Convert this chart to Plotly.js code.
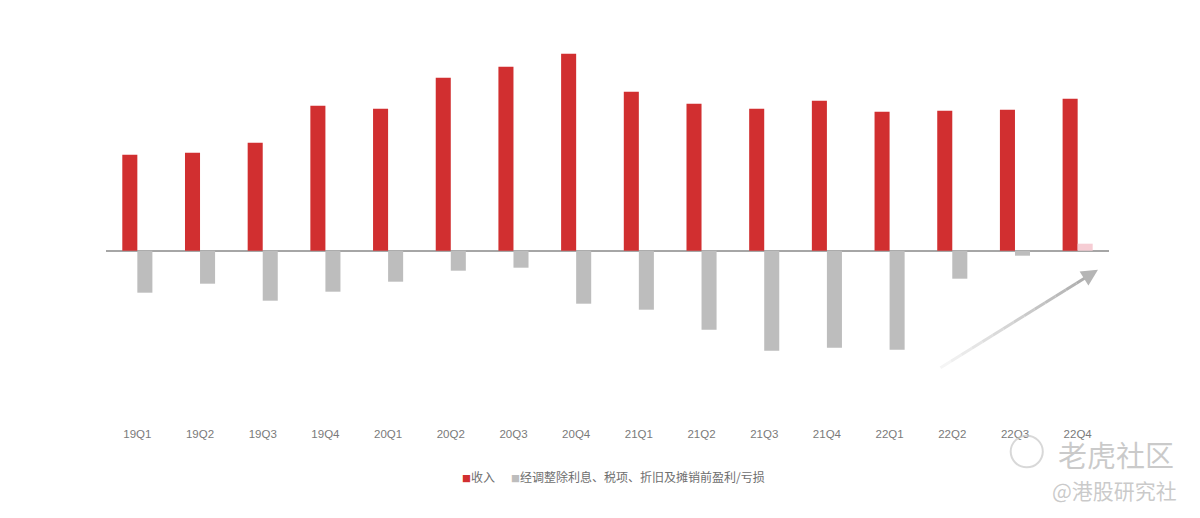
<!DOCTYPE html>
<html>
<head>
<meta charset="utf-8">
<script src="https://cdn.plot.ly/plotly-3.0.1.min.js"></script>
<style>html,body{margin:0;padding:0;background:#fff;}#chart{width:1200px;height:518px;}</style>
</head>
<body>
<div id="chart"></div>
<script>
var quarters = ['19Q1','19Q2','19Q3','19Q4','20Q1','20Q2','20Q3','20Q4','21Q1','21Q2','21Q3','21Q4','22Q1','22Q2','22Q3','22Q4'];
var revenue = [96, 98, 108, 145, 142, 173, 184, 197, 159, 147, 142, 150, 139, 140, 141, 152];
var adjEbitda = [-42, -33, -50, -41, -31, -20, -17, -53, -59, -79, -100, -97, -99, -28, -5, 7];
var seriesNames = ['收入', '经调整除利息、税项、折旧及摊销前盈利/亏损'];

var red = '#D12F30';
var grey = '#BDBDBD';
var pink = '#F6CDD4';
var ebitdaColors = adjEbitda.map(function(v){ return v > 0 ? pink : grey; });

var traces = [
  {type:'bar', name:seriesNames[0], x:quarters, y:revenue, marker:{color:red}, hoverinfo:'x+y'},
  {type:'bar', name:seriesNames[1], x:quarters, y:adjEbitda, marker:{color:ebitdaColors}, hoverinfo:'x+y'}
];

// gradient arrow: segments from faint to darker
var shapes = [];
var x0 = 0.832, y0 = -117, x1 = 0.978, y1 = -26;
var nSeg = 14;
for (var i = 0; i < nSeg; i++) {
  var t0 = i / nSeg, t1 = (i + 1) / nSeg;
  var c = Math.round(250 - 75 * t1);
  shapes.push({type:'line', xref:'paper', yref:'y',
    x0: x0 + (x1 - x0) * t0, y0: y0 + (y1 - y0) * t0,
    x1: x0 + (x1 - x0) * t1, y1: y0 + (y1 - y0) * t1,
    line:{color:'rgb(' + c + ',' + c + ',' + c + ')', width:3}});
}
// watermark logo circle
shapes.push({type:'circle', xref:'paper', yref:'paper', x0:0.902, x1:0.934, y0:-0.11, y1:-0.028,
  line:{color:'rgba(200,200,200,0.7)', width:2}});

var legendFont = {family:'Noto Sans CJK SC, sans-serif', size:12, color:'#6E6E6E'};

var layout = {
  width:1200, height:518,
  margin:{l:106, r:90.5, t:40, b:93},
  paper_bgcolor:'#ffffff', plot_bgcolor:'#ffffff',
  barmode:'group', bargap:0.52, bargroupgap:0,
  showlegend:false,
  xaxis:{type:'category', showgrid:false, showline:false, zeroline:false, ticks:'',
    tickfont:{family:'Liberation Sans, Arial, sans-serif', size:11.5, color:'#7A7A7A'}},
  yaxis:{range:[-174.3, 210.7], showgrid:false, showticklabels:false, showline:false, ticks:'',
    zeroline:true, zerolinecolor:'#A6A6A6', zerolinewidth:2},
  shapes:shapes,
  annotations:[
    {xref:'paper', yref:'y', x:x1 + 0.011, y:y1 + 7, ax:x1 - 0.004, ay:y1 - 2.5, axref:'paper', ayref:'y',
     showarrow:true, arrowhead:2, arrowsize:1.1, arrowwidth:3, arrowcolor:'#B5B5B5', text:''},
    {xref:'paper', yref:'paper', x:(460 - 106) / 1003.5, y:-0.133, xanchor:'left', yanchor:'middle', showarrow:false,
     text:'<span style="color:' + red + ';font-size:9px">■</span>' + seriesNames[0], font:legendFont},
    {xref:'paper', yref:'paper', x:(509 - 106) / 1003.5, y:-0.133, xanchor:'left', yanchor:'middle', showarrow:false,
     text:'<span style="color:' + grey + ';font-size:9px">■</span>' + seriesNames[1], font:legendFont},
    {xref:'paper', yref:'paper', x:0.947, y:-0.075, xanchor:'left', yanchor:'middle', showarrow:false,
     text:'老虎社区', font:{family:'Noto Sans CJK SC, sans-serif', size:29, color:'rgba(185,185,185,0.75)'}},
    {xref:'paper', yref:'paper', x:1.005, y:-0.169, xanchor:'center', yanchor:'middle', showarrow:false,
     text:'@港股研究社', font:{family:'Noto Sans CJK SC, sans-serif', size:21, color:'rgba(185,185,185,0.75)'}}
  ]
};

Plotly.newPlot('chart', traces, layout, {displayModeBar:false, staticPlot:true});
</script>
</body>
</html>
